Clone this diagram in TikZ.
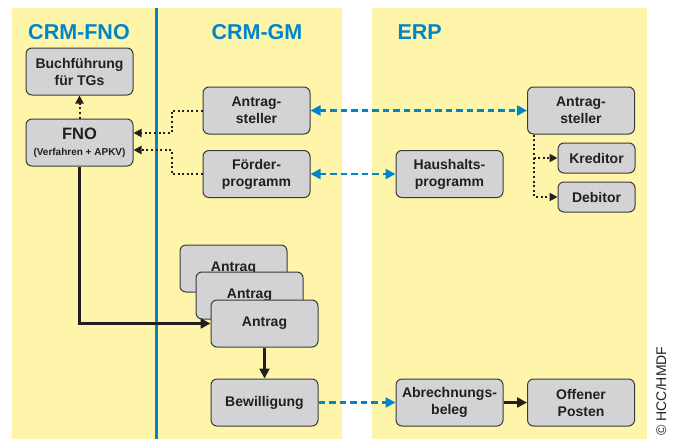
\documentclass[tikz,border=0pt]{standalone}
\usepackage{fontspec}
\setmainfont{Liberation Sans}
\usetikzlibrary{arrows.meta,calc}
\definecolor{panel}{HTML}{FFF5AA}
\definecolor{boxfill}{HTML}{D3D3D5}
\definecolor{boxline}{HTML}{3A3A3A}
\definecolor{ink}{HTML}{231F20}
\definecolor{sysblue}{HTML}{0085CA}
\tikzset{
  box/.style={draw=boxline, line width=1pt, fill=boxfill, rounded corners=6pt,
    minimum width=107pt, minimum height=47pt, inner sep=0pt, align=center,
    text=ink, font=\bfseries\fontsize{14}{17}\selectfont},
  smallbox/.style={box, minimum width=77pt, minimum height=30pt},
  title/.style={text=sysblue, font=\bfseries\fontsize{21.5}{24}\selectfont},
  dotlink/.style={draw=ink, line width=2pt, dash pattern=on 2pt off 2.6pt,
    -{Triangle[length=8pt,width=8pt]}},
  bluelink/.style={draw=sysblue, line width=2.4pt, dash pattern=on 6.5pt off 4pt,
    -{Triangle[length=10pt,width=10pt]}},
  bluelinkboth/.style={bluelink, {Triangle[length=10pt,width=10pt]}-{Triangle[length=10pt,width=10pt]}},
  flow/.style={draw=ink, line width=2.4pt, -{Triangle[length=10pt,width=10pt]}}
}
\begin{document}
\begin{tikzpicture}[x=1pt,y=-1pt]
\useasboundingbox (0,0) rectangle (676,439);
\fill[white] (0,0) rectangle (676,439);
% system panels
\fill[panel] (12,8) rectangle (342,439);
\fill[panel] (372,8) rectangle (647,439);
\draw[sysblue, line width=2.2pt] (156.5,8) -- (156.5,439);

% panel titles
\node[title] (tfno) at (79,32) {CRM-FNO};
\node[title] (tgm) at (257,32) {CRM-GM};
\node[title, anchor=west] (terp) at (394,32) {ERP};

% CRM-FNO
\node[box] (buch) at (79.5,71.5) {Buchführung\\für TGs};
\node[box] (fno) at (79.5,142.5) {{\fontsize{16.5}{17}\selectfont FNO}\\[-1pt]{\fontsize{10}{11}\selectfont (Verfahren + APKV)}};

% CRM-GM
\node[box] (ast1) at (256.5,110.5) {Antrag-\\steller};
\node[box] (foerd) at (256.5,174) {Förder-\\programm};
\node[box] (antragc) at (233.5,268.5) {Antrag};
\node[box] (antragb) at (249.5,295.5) {Antrag};
\node[box] (antrag) at (264.5,323.5) {Antrag};
\node[box] (bew) at (264.5,402.5) {Bewilligung};

% ERP
\node[box] (ast2) at (581,110.5) {Antrag-\\steller};
\node[smallbox] (kred) at (596.5,158) {Kreditor};
\node[smallbox] (deb) at (596.5,197) {Debitor};
\node[box] (haus) at (449.5,174) {Haushalts-\\programm};
\node[box] (abr) at (449.5,402.5) {Abrechnungs-\\beleg};
\node[box] (off) at (581,402.5) {Offener\\Posten};

% dotted links
\draw[dotlink] (fno.north) -- (buch.south);
\draw[dotlink] (ast1.west) -- ++(-31,0) |- ([yshift=9.5pt]fno.east);
\draw[dotlink] (foerd.west) -- ++(-31,0) |- ([yshift=-7.5pt]fno.east);
\draw[dotlink] ([xshift=-47pt]ast2.south) |- (kred.west);
\draw[dotlink] ([xshift=-47pt]ast2.south) |- (deb.west);

% blue interface links
\draw[bluelinkboth] (ast1.east) -- (ast2.west);
\draw[bluelinkboth] (foerd.east) -- (haus.west);
\draw[bluelink] (bew.east) -- (abr.west);

% process flow
\draw[flow] (fno.south) |- (antrag.west);
\draw[flow] (antrag.south) -- (bew.north);
\draw[flow] (abr.east) -- (off.west);

% copyright
\node[rotate=90, text=ink, font=\fontsize{14}{16}\selectfont] (copy) at (661,391) {© HCC/HMDF};
\end{tikzpicture}
\end{document}
